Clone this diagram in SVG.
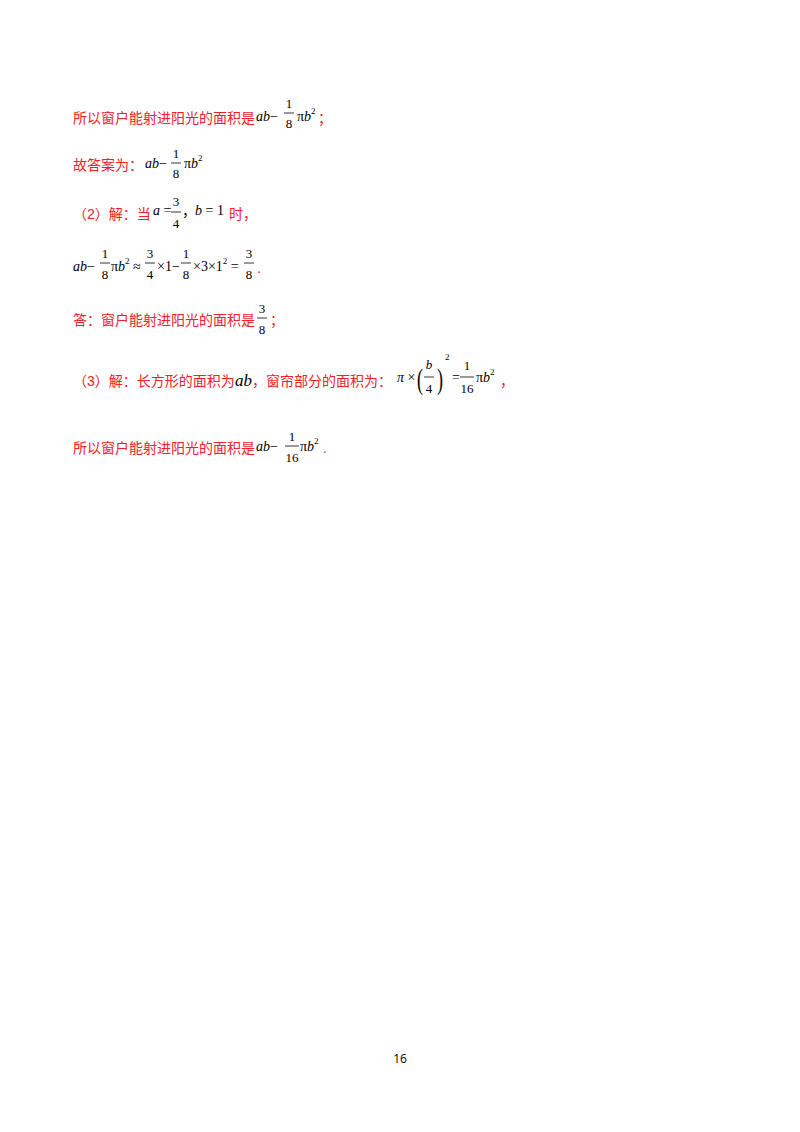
<svg xmlns="http://www.w3.org/2000/svg" width="800" height="1132" viewBox="0 0 800 1132">
<style>
.cn{font-family:"Liberation Sans","Noto Sans CJK SC",sans-serif;font-size:14px;fill:#f0202a}
.m{font-family:"Liberation Serif","Noto Sans CJK SC",serif;font-size:14px;fill:#000}
.i{font-style:italic}
.s{font-size:9px}
.f{font-family:"Liberation Serif",serif;font-size:13px;fill:#000;text-anchor:middle}
.bar{stroke:#000;stroke-width:0.8}
.pg{font-family:"Open Sans","Liberation Sans",sans-serif;font-size:12px;fill:#000;text-anchor:middle}
</style>
<rect width="800" height="1132" fill="#fff"/>
<g id="line1">
<text class="cn" x="73" y="123">所以窗户能射进阳光的面积是</text>
<text class="m" x="256" y="121"><tspan class="i">ab</tspan>−</text>
<text class="f" x="289" y="108">1</text><line class="bar" x1="284" y1="113" x2="294" y2="113"/><text class="f" x="289" y="128">8</text>
<text class="m" x="297" y="121">π<tspan class="i">b</tspan><tspan class="s" dy="-7">2</tspan></text>
<text class="cn" x="318" y="123">；</text>
</g>
<g id="line2">
<text class="cn" x="73" y="170">故答案为：</text>
<text class="m" x="145" y="168"><tspan class="i">ab</tspan>−</text>
<text class="f" x="176" y="158">1</text><line class="bar" x1="171" y1="163" x2="181" y2="163"/><text class="f" x="176" y="178">8</text>
<text class="m" x="184" y="168">π<tspan class="i">b</tspan><tspan class="s" dy="-7">2</tspan></text>
</g>
<g id="line3">
<text class="cn" x="73" y="219">（2）解：当</text>
<text class="m" x="153" y="215"><tspan class="i">a</tspan> =</text>
<text class="f" x="176" y="206">3</text><line class="bar" x1="171" y1="212" x2="181" y2="212"/><text class="f" x="176" y="228">4</text>
<text class="m" x="182" y="216">，</text>
<text class="m" x="195" y="215"><tspan class="i">b</tspan> = 1</text>
<text class="cn" x="229" y="219">时，</text>
</g>
<g id="line4">
<text class="m" x="73" y="271"><tspan class="i">ab</tspan>−</text>
<text class="f" x="105" y="258">1</text><line class="bar" x1="100" y1="263" x2="110" y2="263"/><text class="f" x="105" y="279">8</text>
<text class="m" x="111" y="271">π<tspan class="i">b</tspan><tspan class="s" dy="-7">2</tspan><tspan dy="7"> ≈</tspan></text>
<text class="f" x="150" y="258">3</text><line class="bar" x1="145" y1="263" x2="155" y2="263"/><text class="f" x="150" y="279">4</text>
<text class="m" x="157" y="271">×1−</text>
<text class="f" x="186" y="258">1</text><line class="bar" x1="181" y1="263" x2="191" y2="263"/><text class="f" x="186" y="279">8</text>
<text class="m" x="193" y="271">×3×1<tspan class="s" dy="-7">2</tspan><tspan dy="7"> =</tspan></text>
<text class="f" x="249" y="258">3</text><line class="bar" x1="244" y1="263" x2="254" y2="263"/><text class="f" x="249" y="279">8</text>
<text class="cn" x="257" y="273">.</text>
</g>
<g id="line5">
<text class="cn" x="73" y="325">答：窗户能射进阳光的面积是</text>
<text class="f" x="262" y="313">3</text><line class="bar" x1="257" y1="318" x2="267" y2="318"/><text class="f" x="262" y="334">8</text>
<text class="cn" x="270" y="325">；</text>
</g>
<g id="line6">
<text class="cn" x="73" y="386">（3）解：长方形的面积为</text>
<text class="m i" x="235" y="386" style="font-size:17px">ab</text>
<text class="cn" x="252" y="386">，窗帘部分的面积为：</text>
<text class="m" x="397" y="382"><tspan class="i">π</tspan> ×</text>
<text class="m" x="417" y="389" style="font-size:30px" transform="translate(417,389) scale(0.6,1) translate(-417,-389)">(</text>
<text class="f i" x="429" y="369">b</text><line class="bar" x1="424" y1="377" x2="434" y2="377"/><text class="f" x="429" y="393">4</text>
<text class="m" x="437" y="389" style="font-size:30px" transform="translate(437,389) scale(0.6,1) translate(-437,-389)">)</text>
<text class="m s" x="445" y="360">2</text>
<text class="m" x="452" y="382">=</text>
<text class="f" x="467" y="370">1</text><line class="bar" x1="460" y1="377" x2="474" y2="377"/><text class="f" x="467" y="393">16</text>
<text class="m" x="476" y="382">π<tspan class="i">b</tspan><tspan class="s" dy="-7">2</tspan></text>
<text class="cn" x="500" y="386">，</text>
</g>
<g id="line7">
<text class="cn" x="73" y="453">所以窗户能射进阳光的面积是</text>
<text class="m" x="256" y="451"><tspan class="i">ab</tspan>−</text>
<text class="f" x="292" y="441">1</text><line class="bar" x1="285" y1="446" x2="299" y2="446"/><text class="f" x="292" y="462">16</text>
<text class="m" x="300" y="451">π<tspan class="i">b</tspan><tspan class="s" dy="-7">2</tspan></text>
<text class="cn" x="323" y="453">.</text>
</g>
<text class="pg" x="400" y="1063">16</text>
</svg>
